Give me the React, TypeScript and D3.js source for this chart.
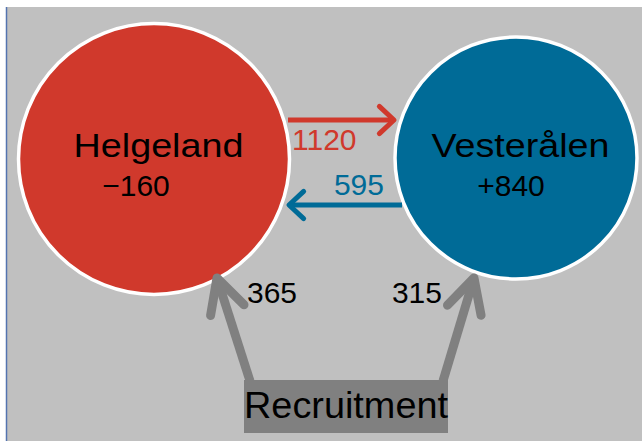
import React from 'react';
import * as d3 from 'd3';

// data
const regions = ['Helgeland', 'Vesterålen'];
const balances = ['−160', '+840'];
const flowValues = [1120, 595]; // Helgeland -> Vesterålen, Vesterålen -> Helgeland
const recruitment = [365, 315];
const sourceLabel = 'Recruitment';

const W = 642;
const H = 441;
const colors = ['#d0392c', '#006b97'];
const radii = [135.5, 121];

const App: React.FC = () => {
  const x = d3.scalePoint<string>().domain(regions).range([154, 516]);
  const cy = [159, 158];
  const line = d3.line<[number, number]>();

  const head = (tip: [number, number], from: [number, number], len: number, spread: number) => {
    const a = Math.atan2(from[1] - tip[1], from[0] - tip[0]);
    const p1: [number, number] = [tip[0] + len * Math.cos(a + spread), tip[1] + len * Math.sin(a + spread)];
    const p2: [number, number] = [tip[0] + len * Math.cos(a - spread), tip[1] + len * Math.sin(a - spread)];
    return line([p1, tip, p2]) as string;
  };

  // label placement
  const nameX = [158.5, 520.5];
  const nameLen = [170, 178];
  const balX = [136, 511];

  // flows between the two regions
  const redY = 120;
  const blueY = 205;
  const redStart: [number, number] = [288, redY];
  const redEnd: [number, number] = [394, redY];
  const blueStart: [number, number] = [402, blueY];
  const blueEnd: [number, number] = [289, blueY];

  // recruitment box
  const box = { x: 244, y: 380, w: 204, h: 53 };
  const recTips: [number, number][] = [[217, 278], [474, 278]];
  const recBases: [number, number][] = [[250, 381], [443, 381]];

  const font = '"Liberation Sans", Arial, sans-serif';

  return (
    <svg width={W} height={H} style={{ position: 'absolute', left: 0, top: 0 }} fontFamily={font}>
      <rect x={0} y={0} width={W} height={H} fill="#ffffff" />
      <rect x={7} y={7} width={W - 7} height={H - 7} fill="#c0c0c0" />
      <line x1={6.5} y1={7} x2={6.5} y2={H} stroke="#5474b0" strokeWidth={1.5} />

      {regions.map((r, i) => (
        <g key={r}>
          <circle cx={x(r)} cy={cy[i]} r={radii[i]} fill={colors[i]} stroke="#ffffff" strokeWidth={3.5} />
          <text
            x={nameX[i]}
            y={157}
            textAnchor="middle"
            fontSize={33}
            textLength={nameLen[i]}
            lengthAdjust="spacingAndGlyphs"
            fill="#000"
          >
            {r}
          </text>
          <text x={balX[i]} y={195.5} textAnchor="middle" fontSize={30} fill="#000">
            {balances[i]}
          </text>
        </g>
      ))}

      {/* red flow */}
      <path d={line([redStart, redEnd]) as string} stroke={colors[0]} strokeWidth={5} fill="none" />
      <path d={head(redEnd, redStart, 20, 0.75)} stroke={colors[0]} strokeWidth={5} fill="none" strokeLinecap="round" strokeLinejoin="round" />
      <text x={292} y={150} fontSize={30} fill={colors[0]}>{flowValues[0]}</text>

      {/* blue flow */}
      <path d={line([blueStart, blueEnd]) as string} stroke={colors[1]} strokeWidth={5} fill="none" />
      <path d={head(blueEnd, blueStart, 20, 0.75)} stroke={colors[1]} strokeWidth={5} fill="none" strokeLinecap="round" strokeLinejoin="round" />
      <text x={384} y={195} fontSize={30} textAnchor="end" fill={colors[1]}>{flowValues[1]}</text>

      {/* recruitment */}
      {recTips.map((tip, i) => (
        <g key={i}>
          <path d={line([recBases[i], tip]) as string} stroke="#808080" strokeWidth={9} fill="none" />
          <path d={head(tip, recBases[i], 38, 0.48)} stroke="#808080" strokeWidth={9} fill="none" strokeLinecap="round" strokeLinejoin="round" />
        </g>
      ))}
      <text x={247} y={303} fontSize={30} fill="#000">{recruitment[0]}</text>
      <text x={442} y={303} fontSize={30} textAnchor="end" fill="#000">{recruitment[1]}</text>

      <rect x={box.x} y={box.y} width={box.w} height={box.h} fill="#808080" />
      <text
        x={box.x + box.w / 2}
        y={418}
        textAnchor="middle"
        fontSize={36}
        textLength={204}
        lengthAdjust="spacingAndGlyphs"
        fill="#000"
      >
        {sourceLabel}
      </text>
    </svg>
  );
};

export default App;
